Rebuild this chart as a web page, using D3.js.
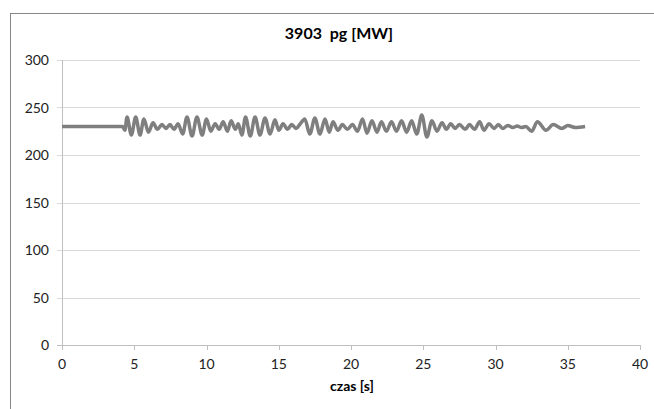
<!DOCTYPE html>
<html>
<head>
<meta charset="utf-8">
<script src="https://cdn.jsdelivr.net/npm/d3@7"></script>
<style>
  body { margin: 0; background: #fff; }
  svg { display: block; font-family: Lato, "Open Sans", sans-serif; }
</style>
</head>
<body>
<div id="chart"></div>
<script>
const width = 654;
const height = 409;

const title = "3903  pg [MW]";
const xTitle = "czas [s]";
const xTicks = [0, 5, 10, 15, 20, 25, 30, 35, 40];
const yTicks = [0, 50, 100, 150, 200, 250, 300];

// time [s] and power [MW] at the turning points
const time = [
  0, 4.2, 4.35, 4.5, 4.8, 5.1, 5.4, 5.67, 5.98, 6.3, 6.6, 6.92, 7.2, 7.47, 7.75, 8.03,
  8.35, 8.65, 9.0, 9.34, 9.7, 10.0, 10.3, 10.6, 10.88, 11.15, 11.45, 11.7, 12.0, 12.2,
  12.45, 12.7, 13.03, 13.36, 13.7, 14.05, 14.4, 14.74, 15.0, 15.3, 15.6, 15.9, 16.2, 16.5,
  16.8, 17.15, 17.5, 17.85, 18.2, 18.5, 18.75, 19.1, 19.4, 19.75, 20.1, 20.45, 20.8, 21.1,
  21.45, 21.8, 22.1, 22.45, 22.8, 23.15, 23.5, 23.85, 24.2, 24.55, 24.9, 25.25, 25.6, 25.95,
  26.3, 26.6, 26.9, 27.2, 27.5, 27.9, 28.2, 28.55, 28.9, 29.2, 29.55, 29.9, 30.2, 30.5,
  30.85, 31.2, 31.5, 31.8, 32.1, 32.5, 32.9, 33.5, 34.0, 34.6, 35.0, 35.5, 36.2
];
const power = [
  230, 230, 226, 240, 221, 240, 221, 238, 224, 234, 227, 232, 228, 232, 227, 233,
  222, 240, 220, 240, 221, 238, 225, 233, 227, 235, 225, 236, 227, 233,
  221, 240, 220, 240, 221, 239, 222, 237, 226, 233, 227, 232, 228, 233,
  238, 222, 239, 222, 238, 224, 235, 226, 232, 227, 232, 225, 238, 223,
  236, 224, 235, 225, 235, 225, 236, 224, 236, 222, 242, 219, 236, 225,
  234, 227, 233, 228, 232, 227, 232, 227, 235, 226, 233, 228, 232, 228,
  231, 229, 230.5, 229, 230, 225, 235, 226, 232, 228, 231, 229, 230
];

const margin = { left: 62, right: 14, top: 60, bottom: 64 };

const svg = d3.select("#chart")
  .append("svg")
  .attr("width", width)
  .attr("height", height);

// chart frame (cut off at right and bottom)
svg.append("rect")
  .attr("x", 10.5)
  .attr("y", 13.5)
  .attr("width", 700)
  .attr("height", 500)
  .attr("fill", "none")
  .attr("stroke", "#878787");

const x = d3.scaleLinear()
  .domain([0, 40])
  .range([margin.left, width - margin.right]);

const y = d3.scaleLinear()
  .domain([0, 300])
  .range([height - margin.bottom, margin.top]);

// gridlines + y ticks
svg.append("g")
  .selectAll("line")
  .data(yTicks)
  .enter()
  .append("line")
  .attr("x1", margin.left - 5)
  .attr("x2", x(40))
  .attr("y1", d => Math.round(y(d)) + 0.5)
  .attr("y2", d => Math.round(y(d)) + 0.5)
  .attr("stroke", d => d === 0 ? "#bfbfbf" : "#d9d9d9");

svg.append("line")
  .attr("x1", margin.left + 0.5)
  .attr("x2", margin.left + 0.5)
  .attr("y1", y(300))
  .attr("y2", y(0))
  .attr("stroke", "#bfbfbf");

svg.append("g")
  .selectAll("text")
  .data(yTicks)
  .enter()
  .append("text")
  .attr("x", margin.left - 13)
  .attr("y", d => y(d) + 5)
  .attr("text-anchor", "end")
  .attr("font-size", 14)
  .attr("fill", "#222")
  .text(d => d);

// x ticks
svg.append("g")
  .selectAll("line")
  .data(xTicks)
  .enter()
  .append("line")
  .attr("x1", d => Math.round(x(d)) + 0.5)
  .attr("x2", d => Math.round(x(d)) + 0.5)
  .attr("y1", y(0))
  .attr("y2", y(0) + 5)
  .attr("stroke", "#bfbfbf");

svg.append("g")
  .selectAll("text")
  .data(xTicks)
  .enter()
  .append("text")
  .attr("x", d => x(d))
  .attr("y", y(0) + 24)
  .attr("text-anchor", "middle")
  .attr("font-size", 14)
  .attr("fill", "#222")
  .text(d => d);

// series
const data = time.map((t, i) => ({ t: t, v: power[i] }));

const line = d3.line()
  .x(d => x(d.t))
  .y(d => y(d.v))
  .curve(d3.curveMonotoneX);

svg.append("path")
  .datum(data)
  .attr("d", line)
  .attr("fill", "none")
  .attr("stroke", "#7f7f7f")
  .attr("stroke-width", 3.5)
  .attr("stroke-linejoin", "round");

// titles
svg.append("text")
  .attr("x", 339)
  .attr("y", 39)
  .attr("text-anchor", "middle")
  .attr("font-size", 16)
  .attr("font-weight", "bold")
  .attr("xml:space", "preserve")
  .style("white-space", "pre")
  .text(title);

svg.append("text")
  .attr("x", 352)
  .attr("y", 391)
  .attr("text-anchor", "middle")
  .attr("font-size", 14)
  .attr("font-weight", "bold")
  .text(xTitle);
</script>
</body>
</html>
